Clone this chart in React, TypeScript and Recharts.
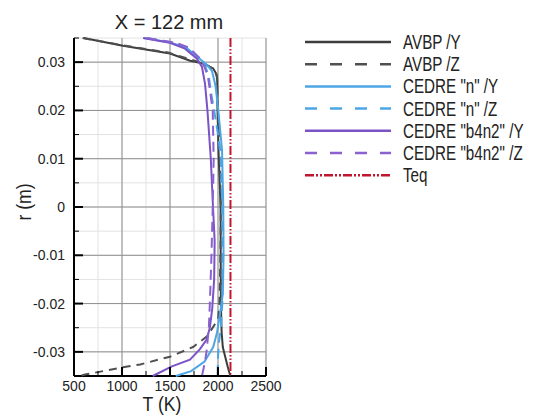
import { ScatterChart, Scatter, XAxis, YAxis, CartesianGrid, ReferenceLine } from 'recharts';

type Pt = { r: number; T: number };

// radial temperature profiles at X = 122 mm, listed top (r > 0) to bottom
const avbpY: Pt[] = [
  { r: 0.035, T: 600 }, { r: 0.0334, T: 1010 }, { r: 0.0318, T: 1500 }, { r: 0.0303, T: 1710 },
  { r: 0.0297, T: 1845 }, { r: 0.0287, T: 1950 }, { r: 0.0275, T: 1985 }, { r: 0.0265, T: 1992 },
  { r: 0.02, T: 1995 }, { r: 0.01, T: 2008 }, { r: 0, T: 2027 }, { r: -0.01, T: 2028 },
  { r: -0.02, T: 2030 }, { r: -0.026, T: 2038 }, { r: -0.029, T: 2050 }, { r: -0.031, T: 2075 },
  { r: -0.033, T: 2100 }, { r: -0.035, T: 2128 },
];

const avbpZ: Pt[] = [
  { r: 0.035, T: 590 }, { r: 0.0335, T: 1000 }, { r: 0.032, T: 1480 }, { r: 0.0305, T: 1720 },
  { r: 0.0297, T: 1860 }, { r: 0.0285, T: 1960 }, { r: 0.027, T: 1988 }, { r: 0.02, T: 2000 },
  { r: 0.01, T: 2020 }, { r: 0, T: 2030 }, { r: -0.01, T: 2025 }, { r: -0.02, T: 2015 },
  { r: -0.0233, T: 2000 }, { r: -0.0268, T: 1885 }, { r: -0.029, T: 1740 }, { r: -0.031, T: 1500 },
  { r: -0.0326, T: 1190 }, { r: -0.0332, T: 1010 }, { r: -0.0347, T: 615 }, { r: -0.035, T: 560 },
];

const cedreNY: Pt[] = [
  { r: 0.035, T: 1230 }, { r: 0.034, T: 1510 }, { r: 0.033, T: 1670 }, { r: 0.031, T: 1790 },
  { r: 0.0295, T: 1880 }, { r: 0.0282, T: 1937 }, { r: 0.025, T: 1975 }, { r: 0.0206, T: 2000 },
  { r: 0.0118, T: 2042 }, { r: 0, T: 2055 }, { r: -0.01, T: 2058 }, { r: -0.018, T: 2050 },
  { r: -0.022, T: 2022 }, { r: -0.026, T: 1990 }, { r: -0.029, T: 1950 }, { r: -0.032, T: 1860 },
  { r: -0.034, T: 1720 }, { r: -0.035, T: 1560 },
];

const cedreNZ: Pt[] = [
  { r: 0.035, T: 1260 }, { r: 0.034, T: 1540 }, { r: 0.033, T: 1690 }, { r: 0.031, T: 1800 },
  { r: 0.029, T: 1870 }, { r: 0.027, T: 1905 }, { r: 0.024, T: 1925 }, { r: 0.02, T: 1960 },
  { r: 0.015, T: 2000 }, { r: 0.01, T: 2030 }, { r: 0, T: 2045 }, { r: -0.01, T: 2050 },
  { r: -0.02, T: 2045 }, { r: -0.025, T: 2030 }, { r: -0.028, T: 2010 }, { r: -0.031, T: 2000 },
  { r: -0.035, T: 1995 },
];

const b4n2Y: Pt[] = [
  { r: 0.035, T: 1220 }, { r: 0.034, T: 1500 }, { r: 0.0328, T: 1656 }, { r: 0.0307, T: 1781 },
  { r: 0.029, T: 1833 }, { r: 0.0255, T: 1865 }, { r: 0.02, T: 1890 }, { r: 0.01, T: 1925 },
  { r: 0, T: 1948 }, { r: -0.007, T: 1965 }, { r: -0.015, T: 1960 }, { r: -0.021, T: 1940 },
  { r: -0.025, T: 1915 }, { r: -0.0275, T: 1880 }, { r: -0.0295, T: 1810 }, { r: -0.0316, T: 1708 },
  { r: -0.033, T: 1520 }, { r: -0.035, T: 1320 },
];

const b4n2Z: Pt[] = [
  { r: 0.035, T: 1260 }, { r: 0.034, T: 1560 }, { r: 0.033, T: 1700 }, { r: 0.031, T: 1800 },
  { r: 0.029, T: 1860 }, { r: 0.027, T: 1895 }, { r: 0.025, T: 1910 }, { r: 0.02, T: 1945 },
  { r: 0.01, T: 1955 }, { r: 0, T: 1945 }, { r: -0.01, T: 1932 }, { r: -0.02, T: 1915 },
  { r: -0.025, T: 1905 }, { r: -0.03, T: 1880 }, { r: -0.032, T: 1865 }, { r: -0.035, T: 1833 },
];

const teq: Pt[] = [
  { r: 0.035, T: 2130 }, { r: -0.035, T: 2130 },
];

const tTicks = [500, 750, 1000, 1250, 1500, 1750, 2000, 2250, 2500];
const tMajor = [1000, 1500, 2000, 2500];
const rTicks = [-0.035, -0.03, -0.025, -0.02, -0.015, -0.01, -0.005, 0, 0.005, 0.01, 0.015, 0.02, 0.025, 0.03, 0.035];
const rMajor = [-0.03, -0.02, -0.01, 0, 0.01, 0.02, 0.03];

const FONT = "'Liberation Sans', Arial, Helvetica, sans-serif";

const series = [
  { name: 'AVBP /Y', data: avbpY, color: '#3d3d3d', dash: undefined, legendDash: undefined },
  { name: 'AVBP /Z', data: avbpZ, color: '#505050', dash: '8 6', legendDash: '12 13' },
  { name: 'CEDRE "n" /Y', data: cedreNY, color: '#4ca6e6', dash: undefined, legendDash: undefined },
  { name: 'CEDRE "n" /Z', data: cedreNZ, color: '#4ca6e6', dash: '10 6', legendDash: '12 13' },
  { name: 'CEDRE "b4n2" /Y', data: b4n2Y, color: '#7b53c6', dash: undefined, legendDash: undefined },
  { name: 'CEDRE "b4n2" /Z', data: b4n2Z, color: '#8a62d0', dash: '10 6', legendDash: '12 13' },
  { name: 'Teq', data: teq, color: '#c2162f', dash: '9 2 1.5 2 1.5 2', legendDash: '9 2 2 2 2 2' },
];

const isMajorR = (v: number) => Math.abs(Math.round(v * 1000)) % 10 === 0;
const isMajorT = (v: number) => v % 500 === 0;

function RTick(props: any) {
  const { x, y, payload } = props;
  const v = payload.value as number;
  const major = isMajorR(v);
  const label = Math.abs(v) < 1e-9 ? '0' : v.toFixed(2);
  return (
    <g>
      <line x1={x} y1={y} x2={x + (major ? 9 : 5)} y2={y} stroke="#000" strokeWidth={major ? 2 : 1} />
      {major && (
        <text x={x - 9} y={y + 5} textAnchor="end" fontSize={14} fontFamily={FONT} fill="#222">
          {label}
        </text>
      )}
    </g>
  );
}

function TTick(props: any) {
  const { x, y, payload } = props;
  const v = payload.value as number;
  const major = isMajorT(v);
  return (
    <g>
      <line x1={x} y1={y} x2={x} y2={y - (major ? 9 : 5)} stroke="#000" strokeWidth={major ? 2 : 1} />
      {major && (
        <text x={x} y={y + 15} textAnchor="middle" fontSize={14} fontFamily={FONT} fill="#222">
          {v}
        </text>
      )}
    </g>
  );
}

const noDot = () => <g />;

export default function App() {
  return (
    <div style={{ position: 'absolute', left: 0, top: 0, width: 544, height: 419, background: '#fff' }}>
      <ScatterChart width={544} height={419} margin={{ top: 38, right: 278, bottom: 0, left: 0 }}>
        <CartesianGrid stroke="#e2e2e2" strokeWidth={1} />
        <XAxis
          type="number"
          dataKey="T"
          domain={[500, 2500]}
          ticks={tTicks}
          interval={0}
          height={43}
          tickSize={0}
          tickMargin={0}
          tickLine={false}
          tick={<TTick />}
          axisLine={{ stroke: '#000', strokeWidth: 2 }}
        />
        <YAxis
          type="number"
          dataKey="r"
          domain={[-0.035, 0.035]}
          ticks={rTicks}
          interval={0}
          width={74}
          tickSize={0}
          tickMargin={0}
          tickLine={false}
          tick={<RTick />}
          axisLine={{ stroke: '#000', strokeWidth: 2 }}
        />
        {tMajor.map((t) => (
          <ReferenceLine key={'t' + t} x={t} stroke="#8e8e8e" strokeWidth={1} />
        ))}
        {rMajor.map((r) => (
          <ReferenceLine key={'r' + r} y={r} stroke="#8e8e8e" strokeWidth={1} />
        ))}
        {series.map((s) => (
          <Scatter
            key={s.name}
            name={s.name}
            data={s.data}
            fill={s.color}
            shape={noDot}
            lineType="joint"
            line={{ stroke: s.color, strokeWidth: 2, strokeDasharray: s.dash }}
            isAnimationActive={false}
          />
        ))}
      </ScatterChart>
      <svg width={544} height={419} style={{ position: 'absolute', left: 0, top: 0, pointerEvents: 'none' }}>
        <text x={169} y={29} textAnchor="middle" fontSize={20} fontFamily={FONT} fill="#222">
          X = 122 mm
        </text>
        <text transform="translate(162, 411) scale(0.88, 1)" textAnchor="middle" fontSize={20} fontFamily={FONT} fill="#222">
          T (K)
        </text>
        <text transform="translate(31, 202) rotate(-90) scale(0.88, 1)" textAnchor="middle" fontSize={20} fontFamily={FONT} fill="#222">
          r (m)
        </text>
        {series.map((s, i) => {
          const y = 42 + i * 22.2;
          return (
            <g key={s.name}>
              <line x1={305} y1={y} x2={391} y2={y} stroke={s.color} strokeWidth={2.5} strokeDasharray={s.legendDash} />
              <text transform={`translate(403, ${y + 7}) scale(0.76, 1)`} fontSize={20} fontFamily={FONT} fill="#222">
                {s.name}
              </text>
            </g>
          );
        })}
      </svg>
    </div>
  );
}
